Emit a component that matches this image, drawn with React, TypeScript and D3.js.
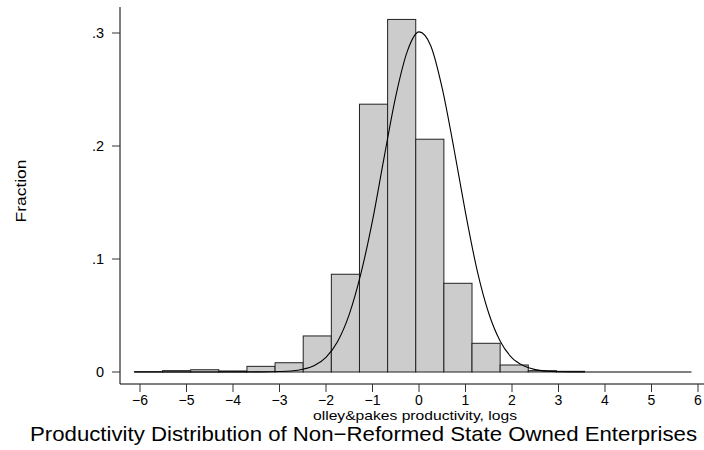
import React from "react";
import * as d3 from "d3";

// histogram bin edges (log productivity) and fraction per bin
const binEdges = [-6.12, -5.515, -4.91, -4.305, -3.7, -3.095, -2.49, -1.885, -1.28, -0.675, -0.07, 0.535, 1.14, 1.745, 2.35, 2.955, 3.56];
const fractions = [0.0003, 0.0012, 0.002, 0.0009, 0.005, 0.0082, 0.0319, 0.0865, 0.237, 0.312, 0.206, 0.0785, 0.0254, 0.0062, 0.0012, 0.0006];

// normal overlay
const curveX = [-6.12, -4, -3.5, -3, -2.75, -2.5, -2.25, -2, -1.75, -1.5, -1.25, -1, -0.75, -0.5, -0.25, 0, 0.25, 0.5, 0.75, 1, 1.25, 1.5, 1.75, 2, 2.25, 2.5, 2.75, 3, 3.5, 4, 5.86];
const curveY = [0, 0, 0.0001, 0.0004, 0.0009, 0.0024, 0.0058, 0.013, 0.027, 0.051, 0.087, 0.134, 0.19, 0.244, 0.284, 0.301, 0.289, 0.251, 0.198, 0.141, 0.09, 0.052, 0.027, 0.0125, 0.0055, 0.0021, 0.0007, 0.0002, 0, 0, 0];

const xTicks = [-6, -5, -4, -3, -2, -1, 0, 1, 2, 3, 4, 5, 6];
const yTicks = [0, 0.1, 0.2, 0.3];

const xTitle = "olley&pakes productivity, logs";
const yTitle = "Fraction";
const title = "Productivity Distribution of Non\u2212Reformed State Owned Enterprises";

const W = 704;
const H = 450;
const font = "'Liberation Sans', Arial, Helvetica, sans-serif";

const fmtY = (v: number) => (v === 0 ? "0" : d3.format(".1f")(v).replace(/^0/, ""));
const fmtX = (v: number) => (v < 0 ? "\u2212" + Math.abs(v) : String(v));

const App = () => {
  const x = d3.scaleLinear().domain([-6, 6]).range([140, 698]);
  const y = d3.scaleLinear().domain([0, 0.3]).range([372, 33]);
  const axisY = 384;
  const axisX = 120;

  const line = d3
    .line<number>()
    .x((d, i) => x(curveX[i]))
    .y(d => y(d))
    .curve(d3.curveMonotoneX);

  return (
    <svg
      width={W}
      height={H}
      style={{ position: "absolute", left: 0, top: 0, background: "#fff" }}
      fontFamily={font}
    >
      {/* bars */}
      <g>
        {fractions.map((f, i) => (
          <rect
            key={i}
            x={x(binEdges[i])}
            y={y(f)}
            width={x(binEdges[i + 1]) - x(binEdges[i])}
            height={y(0) - y(f)}
            fill="#cccccc"
            stroke="#222"
            strokeWidth={1}
          />
        ))}
      </g>
      <path d={line(curveY) || ""} fill="none" stroke="#000" strokeWidth={1.1} />

      {/* y axis */}
      <line x1={axisX} x2={axisX} y1={7} y2={axisY} stroke="#000" />
      {yTicks.map(t => (
        <g key={t}>
          <line x1={axisX - 8} x2={axisX} y1={y(t)} y2={y(t)} stroke="#333" />
          <text x={104} y={y(t) + 5} textAnchor="end" fontSize={14.5}>
            {fmtY(t)}
          </text>
        </g>
      ))}
      <text
        transform={`translate(26,191) rotate(-90)`}
        textAnchor="middle"
        fontSize={14}
        textLength={63}
        lengthAdjust="spacingAndGlyphs"
      >
        {yTitle}
      </text>

      {/* x axis */}
      <line x1={axisX} x2={W} y1={axisY} y2={axisY} stroke="#000" />
      {xTicks.map(t => (
        <g key={t}>
          <line x1={x(t)} x2={x(t)} y1={axisY} y2={axisY + 8} stroke="#333" />
          <text x={x(t)} y={405} textAnchor="middle" fontSize={14}>
            {fmtX(t)}
          </text>
        </g>
      ))}
      <text
        x={415}
        y={420}
        textAnchor="middle"
        fontSize={13.5}
        textLength={204}
        lengthAdjust="spacingAndGlyphs"
      >
        {xTitle}
      </text>
      <text
        x={363.5}
        y={441}
        textAnchor="middle"
        fontSize={21}
        textLength={667}
        lengthAdjust="spacingAndGlyphs"
      >
        {title}
      </text>
    </svg>
  );
};

export default App;
